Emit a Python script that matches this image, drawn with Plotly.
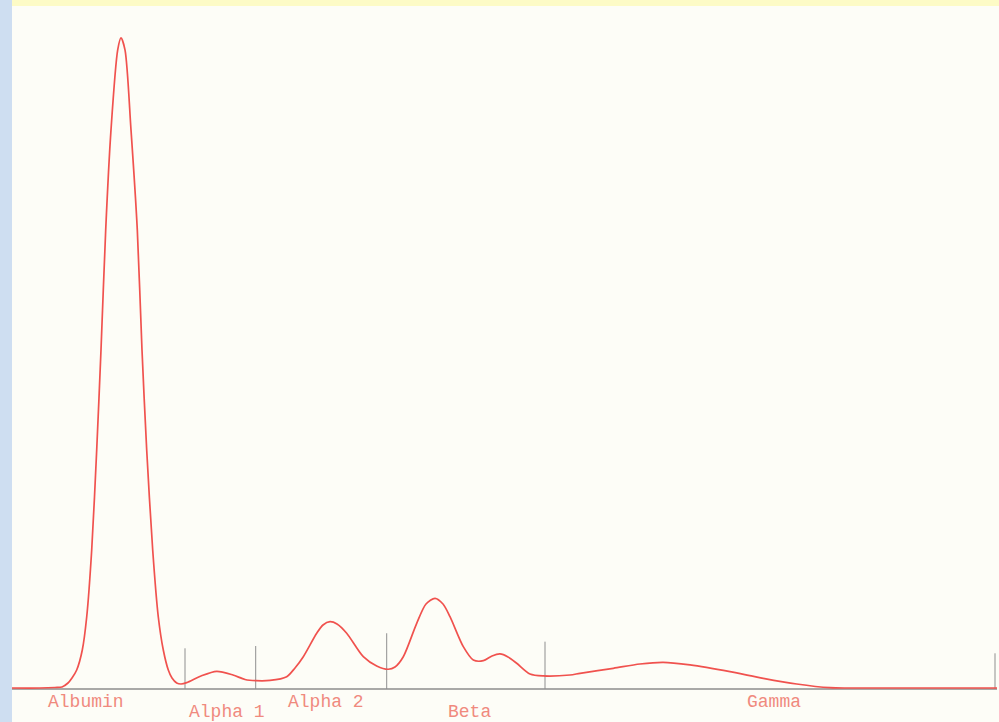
import plotly.graph_objects as go

# Densitometer trace of a serum protein electrophoresis strip
# position along the strip (mm) and relative absorbance (albumin peak = 100)
position_mm = [0.0, 2.8, 4.3, 5.0, 5.6, 6.0, 6.47, 7.03, 7.47, 7.97, 8.47, 8.9, 9.37, 9.9,
               10.57, 10.9, 11.3, 11.9, 12.53, 13.0, 13.47, 14.07, 14.63, 15.13, 15.63,
               16.0, 16.47, 16.9, 17.47, 18.9, 20.47, 22.1, 23.3, 24.4, 25.8, 27.47,
               28.3, 29.13, 30.47, 31.1, 31.8, 32.5, 33.47, 35.13, 36.47, 37.63, 38.3,
               39.13, 40.47, 41.4, 42.3, 43.1, 43.8, 45.13, 46.13, 47.13, 48.0, 48.8,
               49.6, 50.47, 51.8, 53.13, 55.8, 56.8, 60.13, 62.8, 65.13, 67.8, 71.8,
               75.13, 78.47, 81.8, 83.8, 98.5]
absorbance = [0.15, 0.15, 0.23, 0.31, 0.92, 1.69, 2.92, 5.99, 11.06, 21.35, 36.71, 52.07,
              70.51, 85.87, 98.16, 100.0, 98.16, 85.87, 70.51, 52.07, 36.71, 21.35, 11.06,
              5.99, 2.92, 1.69, 0.92, 0.77, 0.97, 2.0, 2.72, 2.15, 1.46, 1.27, 1.31, 1.89,
              3.23, 4.96, 8.56, 9.83, 10.34, 9.98, 8.56, 4.96, 3.53, 3.03, 3.38, 4.96,
              10.09, 13.06, 13.93, 13.06, 11.11, 6.50, 4.45, 4.35, 5.07, 5.38, 4.92,
              3.95, 2.30, 2.00, 2.15, 2.41, 3.18, 3.84, 4.10, 3.69, 2.66, 1.64, 0.77,
              0.20, 0.15, 0.15]

# fraction boundaries (mm) and the height of each boundary marker
boundary_mm = [17.3, 24.37, 37.47, 53.3, 98.3]
boundary_top = [6.25, 6.60, 8.56, 7.27, 5.48]

# fraction names, their label positions and label rows (0 = upper, 1 = lower)
fractions = ["Albumin", "Alpha 1", "Alpha 2", "Beta", "Gamma"]
label_mm = [7.4, 21.45, 31.4, 45.7, 76.15]
label_row = [0, 1, 0, 1, 0]

baseline_span = [0.0, 98.5]

fig = go.Figure()

# baseline
fig.add_trace(go.Scatter(
    x=baseline_span, y=[0, 0], mode="lines",
    line=dict(color="#8c8c8c", width=1.4), hoverinfo="skip", showlegend=False))

# boundary markers between fractions
bx, by = [], []
for xb, top in zip(boundary_mm, boundary_top):
    bx += [xb, xb, None]
    by += [0, top, None]
fig.add_trace(go.Scatter(
    x=bx, y=by, mode="lines",
    line=dict(color="#8f8f8f", width=1), hoverinfo="skip", showlegend=False))

# densitometry curve
fig.add_trace(go.Scatter(
    x=position_mm, y=absorbance, mode="lines",
    line=dict(color="#F0524E", width=1.7, shape="spline", smoothing=0.8),
    showlegend=False))

row_y = [-1.95, -3.5]
for name, xm, row in zip(fractions, label_mm, label_row):
    fig.add_annotation(
        x=xm, y=row_y[row], text=name, showarrow=False,
        xanchor="center", yanchor="middle",
        font=dict(family="Liberation Mono, DejaVu Sans Mono, monospace",
                  size=18, color="#F08A7E"))

# yellow band along the top edge of the chart area
fig.add_shape(type="rect", xref="paper", yref="paper",
              x0=0, x1=1, y0=1, y1=1 + 6 / 716,
              fillcolor="#FDFBC6", line=dict(width=0), layer="below")

fig.update_layout(
    width=999, height=722,
    margin=dict(l=12, r=0, t=6, b=0, pad=0),
    paper_bgcolor="#CEDEF1",
    plot_bgcolor="#FDFDF7",
    xaxis=dict(range=[0, 98.7], visible=False, fixedrange=True),
    yaxis=dict(range=[-5.07, 104.9], visible=False, fixedrange=True),
)

fig.write_html("out.html")
